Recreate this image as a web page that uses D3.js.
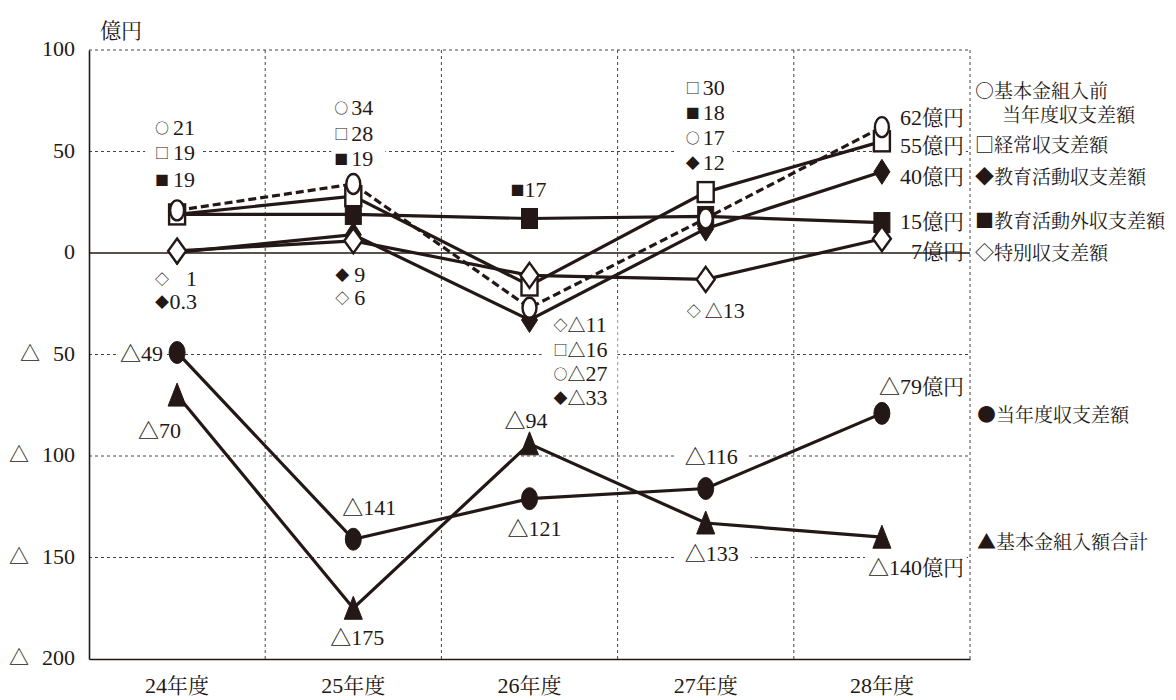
<!DOCTYPE html>
<html><head><meta charset="utf-8">
<script src="https://cdn.jsdelivr.net/npm/d3@7"></script>
</head><body style="margin:0;background:#fff">
<svg id="chart" width="1176" height="700" style="display:block"></svg>
<script>
// ---- data ----
const years = ["24年度","25年度","26年度","27年度","28年度"];
const preBasic = [21, 34, -27, 17, 62];        // 基本金組入前当年度収支差額
const ordinary = [19, 28, -16, 30, 55];        // 経常収支差額
const eduActivity = [0.3, 9, -33, 12, 40];     // 教育活動収支差額
const nonEdu = [19, 19, 17, 18, 15];           // 教育活動外収支差額
const special = [1, 6, -11, -13, 7];           // 特別収支差額
const currentYear = [-49, -141, -121, -116, -79]; // 当年度収支差額
const basicTransfer = [-70, -175, -94, -133, -140]; // 基本金組入額合計
const yTicks = [100, 50, 0, -50, -100, -150, -200];
const unitLabel = "億円";

// ---- setup ----
const INK = "#231815";
const LAT = "Liberation Serif";
const CJK = "Noto Serif CJK JP";
const svg = d3.select("#chart");
const x = d3.scaleBand().domain(years).range([89, 970]);
const y = d3.scaleLinear().domain([-200, 100]).range([659, 50]);
const cx = i => x(years[i]) + x.bandwidth() / 2;
const fmt = v => v < 0 ? "△" + (-v) : String(v);

function font(sel, fam, size) {
  return sel.attr("font-family", fam).style("font-family", fam)
    .attr("font-size", size).style("font-size", size + "px");
}
function rich(t, str, cjkSize, latSize) {
  const runs = str.match(/[\x00-\x7F]+|[^\x00-\x7F]+/g) || [];
  runs.forEach(r => {
    const isLat = /[\x00-\x7F]/.test(r[0]);
    font(t.append("tspan"), isLat ? LAT : CJK, isLat ? latSize : cjkSize).text(r);
  });
  return t;
}

const gGrid = svg.append("g");
const gBg = svg.append("g");
const gAxis = svg.append("g");
const gLines = svg.append("g");
const gMarks = svg.append("g");
const gText = svg.append("g").attr("fill", INK);

// grid
const gridY = yTicks.filter(d => d !== 0 && d !== -200);
gGrid.selectAll("line.h").data(gridY).join("line")
  .attr("x1", x.range()[0]).attr("x2", x.range()[1])
  .attr("y1", d => y(d)).attr("y2", d => y(d))
  .attr("stroke", "#444").attr("stroke-width", 1).attr("stroke-dasharray", "3,3");
const vx = years.slice(1).map(d => x(d)).concat([x.range()[1]]);
gGrid.selectAll("line.v").data(vx).join("line")
  .attr("x1", d => d).attr("x2", d => d)
  .attr("y1", y(100)).attr("y2", y(-200))
  .attr("stroke", "#444").attr("stroke-width", 1).attr("stroke-dasharray", "3,3");

// zero line
gAxis.append("line").attr("x1", x.range()[0]).attr("x2", x.range()[1])
  .attr("y1", y(0)).attr("y2", y(0)).attr("stroke", INK).attr("stroke-width", 1.6);

// axes
const yAxis = gAxis.append("g").attr("transform", `translate(${x.range()[0]},0)`)
  .call(d3.axisLeft(y).tickValues(yTicks).tickSize(0).tickPadding(14).tickFormat(""));
yAxis.attr("font-family", null).attr("font-size", null);
yAxis.select(".domain").attr("stroke", INK).attr("stroke-width", 1.6);
yAxis.selectAll(".tick").each(function(d) {
  const t = d3.select(this).append("text").attr("fill", INK)
    .attr("x", -14).attr("dy", "0.36em").attr("text-anchor", "end");
  if (d < 0) {
    font(t.append("tspan"), CJK, 20).text("△");
    font(t.append("tspan"), LAT, 22).attr("dx", 13).text(-d);
  } else {
    font(t.append("tspan"), LAT, 22).text(d);
  }
});
const xAxis = gAxis.append("g").attr("transform", `translate(0,${y(-200)})`)
  .call(d3.axisBottom(x).tickSize(0).tickFormat(""));
xAxis.attr("font-family", null).attr("font-size", null);
xAxis.select(".domain").attr("stroke", INK).attr("stroke-width", 1.6);
xAxis.selectAll(".tick").each(function(d) {
  const t = d3.select(this).append("text").attr("fill", INK)
    .attr("y", 34).attr("text-anchor", "middle");
  rich(t, d, 21, 22);
});
rich(gText.append("text").attr("x", 100).attr("y", 38), unitLabel, 21, 22);

// series
const series = [
  {values: nonEdu, marker: "square", fill: true},
  {values: eduActivity, marker: "diamond", fill: true},
  {values: ordinary, marker: "square", fill: false},
  {values: special, marker: "diamond", fill: false},
  {values: preBasic, marker: "circle", fill: false, dash: "8,4"},
  {values: currentYear, marker: "circle", fill: true},
  {values: basicTransfer, marker: "triangle", fill: true},
];
const line = d3.line().x((d, i) => cx(i)).y(d => y(d));
series.forEach(s => {
  gLines.append("path").attr("d", line(s.values)).attr("fill", "none")
    .attr("stroke", INK).attr("stroke-width", 3.2)
    .attr("stroke-dasharray", s.dash || null);
});
series.forEach(s => {
  const g = gMarks.append("g");
  s.values.forEach((v, i) => {
    const px = cx(i), py = y(v);
    const fill = s.fill ? INK : "#fff";
    let el;
    if (s.marker === "circle") {
      el = g.append("ellipse").attr("cx", px).attr("cy", py)
        .attr("rx", s.fill ? 8 : 7).attr("ry", s.fill ? 11 : 10);
    } else if (s.marker === "square") {
      el = g.append("rect").attr("x", px - 8).attr("y", py - 10).attr("width", 16).attr("height", 20);
    } else if (s.marker === "diamond") {
      const w = s.fill ? 8 : 9, h = 12.5;
      el = g.append("path").attr("d", `M${px},${py - h}L${px + w},${py}L${px},${py + h}L${px - w},${py}Z`);
    } else {
      el = g.append("path").attr("d", `M${px},${py - 12}L${px + 9},${py + 11}L${px - 9},${py + 11}Z`);
    }
    el.attr("fill", fill).attr("stroke", INK).attr("stroke-width", s.fill ? 1 : 2.4);
  });
});

// ---- annotation layout ----
const sym = new Map([[preBasic, "○"], [ordinary, "□"], [eduActivity, "◆"], [nonEdu, "■"], [special, "◇"]]);
const stackGroups = [
  {i: 0, rows: [preBasic, ordinary, nonEdu], sx: -15, nx: 18, anchor: "end", base: [135, 160, 187], pad: [10, 6]},
  {i: 0, rows: [special, eduActivity], sx: -15, nx: 20, anchor: "end", base: [286, 309], pad: [3, 3]},
  {i: 1, rows: [preBasic, ordinary, nonEdu], sx: -12, nx: 20, anchor: "end", base: [115, 141, 166], pad: [3, 12]},
  {i: 1, rows: [eduActivity, special], sx: -11, nx: 12, anchor: "end", base: [282, 305], pad: [3, 3]},
  {i: 2, rows: [nonEdu], sx: -12, nx: 17, anchor: "end", base: [197], pad: [3, 3]},
  {i: 2, rows: [special, ordinary, preBasic, eduActivity], sx: 31, nx: 38, anchor: "start", base: [332, 357, 381, 405], pad: [12, 10]},
  {i: 3, rows: [ordinary, nonEdu, preBasic, eduActivity], sx: -13, nx: 19, anchor: "end", base: [95, 120, 145, 170], pad: [10, 8]},
  {i: 3, rows: [special], sx: -12, nx: -1, anchor: "start", base: [318], pad: [3, 3]},
];
const bgBoxes = [];
stackGroups.forEach(gr => {
  const gg = gText.append("g");
  gr.rows.forEach((arr, k) => {
    font(gg.append("text"), CJK, 14)
      .attr("x", cx(gr.i) + gr.sx).attr("y", gr.base[k] - 2).attr("text-anchor", "middle")
      .text(sym.get(arr));
    rich(gg.append("text").attr("x", cx(gr.i) + gr.nx).attr("y", gr.base[k])
      .attr("text-anchor", gr.anchor), fmt(arr[gr.i]), 18, 22);
  });
  bgBoxes.push({node: gg.node(), pad: gr.pad});
});

// right-end labels at 28年度
const endRows = [[preBasic, 125], [ordinary, 153], [eduActivity, 184], [nonEdu, 229], [special, 259]];
const gEnd = gText.append("g");
endRows.forEach(([arr, b]) => {
  rich(gEnd.append("text").attr("x", cx(4) + 82).attr("y", b).attr("text-anchor", "end"),
    fmt(arr[4]) + unitLabel, 21, 22);
});
bgBoxes.push({node: gEnd.node(), pad: [16, 2]});

// lower series labels
const lowLabels = [
  {arr: currentYear, i: 0, dx: -14, b: 361, anchor: "end", pad: [3, 3]},
  {arr: basicTransfer, i: 0, dx: 4, b: 438, anchor: "end", pad: [3, 3]},
  {arr: currentYear, i: 1, dx: -11, b: 515, anchor: "start", pad: [3, 3]},
  {arr: basicTransfer, i: 1, dx: -23, b: 645, anchor: "start", pad: [3, 3]},
  {arr: basicTransfer, i: 2, dx: -25, b: 428, anchor: "start", pad: [3, 3]},
  {arr: currentYear, i: 2, dx: -22, b: 536, anchor: "start", pad: [3, 3]},
  {arr: currentYear, i: 3, dx: -21, b: 464, anchor: "start", pad: [8, 9]},
  {arr: basicTransfer, i: 3, dx: -21, b: 561, anchor: "start", pad: [8, 12]},
  {arr: currentYear, i: 4, dx: 82, b: 394, anchor: "end", pad: [3, 3], unit: true},
  {arr: basicTransfer, i: 4, dx: 82, b: 575, anchor: "end", pad: [3, 3], unit: true},
];
lowLabels.forEach(l => {
  const t = rich(gText.append("text").attr("x", cx(l.i) + l.dx).attr("y", l.b)
    .attr("text-anchor", l.anchor), fmt(l.arr[l.i]) + (l.unit ? unitLabel : ""), 21, 22);
  bgBoxes.push({node: t.node(), pad: l.pad});
});

// white boxes behind labels
bgBoxes.forEach(b => {
  const bb = b.node.getBBox();
  gBg.append("rect").attr("x", bb.x - b.pad[0]).attr("y", bb.y + 3)
    .attr("width", bb.width + b.pad[0] + b.pad[1]).attr("height", Math.max(bb.height - 6, 4)).attr("fill", "#fff");
});

// legend
const legendX = 975;
const legend = [
  ["○基本金組入前", 98, 0], ["当年度収支差額", 122, 27], ["□経常収支差額", 152, 0],
  ["◆教育活動収支差額", 184, 0], ["■教育活動外収支差額", 228, 0], ["◇特別収支差額", 260, 0],
  ["●当年度収支差額", 422, 2], ["▲基本金組入額合計", 549, 2],
];
legend.forEach(([txt, b, dx]) => {
  font(gText.append("text"), CJK, 19)
    .attr("x", legendX + dx).attr("y", b).text(txt);
});
</script>
</body></html>
